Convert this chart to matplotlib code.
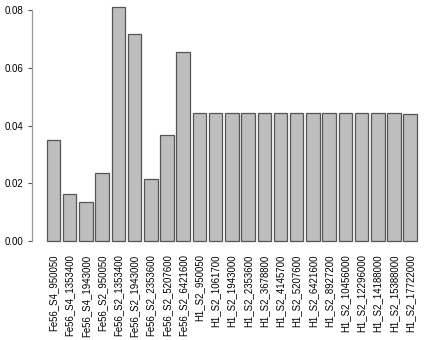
import numpy as np
import matplotlib
matplotlib.use("Agg")
import matplotlib.pyplot as plt

labels = ["Fe56_S4_950050", "Fe56_S4_1353400", "Fe56_S4_1943000",
          "Fe56_S2_950050", "Fe56_S2_1353400", "Fe56_S2_1943000",
          "Fe56_S2_2353600", "Fe56_S2_5207600", "Fe56_S2_6421600",
          "H1_S2_950050", "H1_S2_1061700", "H1_S2_1943000", "H1_S2_2353600",
          "H1_S2_3678800", "H1_S2_4145700", "H1_S2_5207600", "H1_S2_6421600",
          "H1_S2_8927200", "H1_S2_10456000", "H1_S2_12296000",
          "H1_S2_14188000", "H1_S2_15388000", "H1_S2_17722000"]
values = [0.0349, 0.0162, 0.0134, 0.0235, 0.0810, 0.0718, 0.0214, 0.0369,
          0.0654, 0.0443, 0.0443, 0.0443, 0.0443, 0.0443, 0.0443, 0.0443,
          0.0443, 0.0443, 0.0443, 0.0443, 0.0443, 0.0443, 0.0439]
yticks = [0.00, 0.02, 0.04, 0.06, 0.08]

plt.rcParams["font.family"] = ["Liberation Sans", "DejaVu Sans"]

fig = plt.figure(figsize=(4.4, 3.4), dpi=100)
ax = fig.add_axes([31.9 / 440, (340 - 250.3) / 340, 399.9 / 440, 252.2 / 340])

# R barplot style: width 1, space 0.2
x = 0.7 + 1.2 * np.arange(len(values))
ax.bar(x, values, width=1.0, color="#bebebe", edgecolor="#555555", linewidth=0.9)

n = len(values)
xmin, xmax = 0.2, 1.2 * n
pad = 0.04 * (xmax - xmin)
ax.set_xlim(xmin - pad, xmax + pad)
top = max(values)
ax.set_ylim(-0.04 * top, top * 1.04)

for s in ["top", "right", "bottom"]:
    ax.spines[s].set_visible(False)
ax.spines["left"].set_bounds(0, 0.08)
ax.spines["left"].set_color("#999999")
ax.spines["left"].set_linewidth(0.9)

ax.set_yticks(yticks)
ax.set_yticklabels(["%.2f" % v for v in yticks])
ax.tick_params(axis="y", length=2.8, width=0.8, color="#555555", pad=3.0,
               labelsize=7.0)
ax.set_xticks(x)
ax.set_xticklabels(labels, rotation=90, fontsize=6.9)
ax.tick_params(axis="x", length=0, pad=3.0)

fig.savefig("out.png", dpi=100)
